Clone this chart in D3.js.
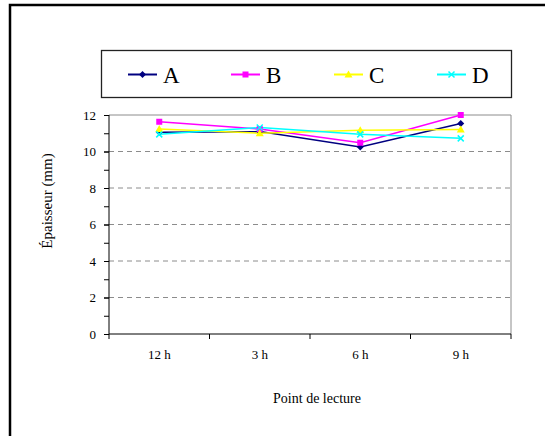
<!DOCTYPE html>
<html><head><meta charset="utf-8">
<script src="https://cdn.jsdelivr.net/npm/d3@7"></script>
<style>body{margin:0;background:#fff}svg{display:block}svg text{font-family:'Liberation Serif','Times New Roman','DejaVu Serif',serif !important;fill:#000}</style>
</head><body>
<script>
const categories = ["12 h", "3 h", "6 h", "9 h"];
const seriesNames = ["A", "B", "C", "D"];
const valuesA = [11.05, 11.09, 10.25, 11.54];
const valuesB = [11.63, 11.23, 10.48, 12.0];
const valuesC = [11.23, 11.0, 11.16, 11.2];
const valuesD = [10.94, 11.31, 10.94, 10.72];
const yTicks = [0, 2, 4, 6, 8, 10, 12];
const yMinorTicks = [0,1,2,3,4,5,6,7,8,9,10,11,12];
const colors = ["#000080", "#FF00FF", "#FFFF00", "#00FFFF"];
const markers = ["diamond", "square", "triangle", "x"];
const series = seriesNames.map((n, i) => ({name: n, values: [valuesA, valuesB, valuesC, valuesD][i], color: colors[i], marker: markers[i]}));

const FONT = "'Liberation Serif','Times New Roman','DejaVu Serif',serif";
const W = 545, H = 436;
const svg = d3.select("body").append("svg").attr("width", W).attr("height", H).attr("font-family", FONT);

// outer frame
svg.append("rect").attr("x", 10).attr("y", 5).attr("width", 600).attr("height", 500)
  .attr("fill", "none").attr("stroke", "#000").attr("stroke-width", 2.5);

const L = 109, R = 511, T = 115, B = 334;
const x = d3.scaleBand().domain(categories).range([L, R]);
const y = d3.scaleLinear().domain([0, 12]).range([B, T]);

// grid
svg.append("g").selectAll("line").data(yTicks.filter(v => v > 0 && v < 12)).join("line")
  .attr("x1", L).attr("x2", R).attr("y1", d => y(d)).attr("y2", d => y(d))
  .attr("stroke", "#8c8c8c").attr("stroke-width", 1).attr("stroke-dasharray", "5,4");

// plot border top/right
svg.append("path").attr("d", `M${L},${T}H${R}V${B}`).attr("fill", "none").attr("stroke", "#8c8c8c").attr("stroke-width", 1);

// y axis
const yAxisMinor = d3.axisLeft(y).tickValues(yMinorTicks).tickSize(5).tickFormat("");
svg.append("g").attr("transform", `translate(${L},0)`).call(yAxisMinor)
  .call(g => g.select(".domain").remove())
  .call(g => g.selectAll("line").attr("stroke", "#000"));
const yAxis = d3.axisLeft(y).tickValues(yTicks).tickSize(5).tickPadding(8);
svg.append("g").attr("transform", `translate(${L},0)`).call(yAxis)
  .attr("font-family", FONT).attr("font-size", 13)
  .call(g => g.select(".domain").attr("stroke", "#000").attr("d", `M0,${B}V${T}`));

// x axis
const xAxis = d3.axisBottom(x).tickSizeInner(0).tickSizeOuter(0).tickPadding(16);
const gx = svg.append("g").attr("transform", `translate(0,${B})`).call(xAxis)
  .attr("font-family", FONT).attr("font-size", 13);
gx.select(".domain").attr("stroke", "#000").attr("d", `M${L},0H${R}`);
gx.selectAll(".xt").data(categories.concat(["__end"])).join("line")
  .attr("x1", (d, i) => L + i * x.step()).attr("x2", (d, i) => L + i * x.step())
  .attr("y1", 0).attr("y2", 5).attr("stroke", "#000");

// axis titles
svg.append("text").attr("transform", `translate(52,201) rotate(-90)`)
  .attr("text-anchor", "middle").attr("font-size", 15).text("Épaisseur (mm)");
svg.append("text").attr("x", 317).attr("y", 403).attr("text-anchor", "middle")
  .attr("font-size", 14).text("Point de lecture");

// marker drawing
function drawMarker(g, type, color) {
  if (type === "diamond") g.append("path").attr("d", "M0,-3.5L3.5,0L0,3.5L-3.5,0Z").attr("fill", color);
  else if (type === "square") g.append("rect").attr("x", -3).attr("y", -3).attr("width", 6).attr("height", 6).attr("fill", color);
  else if (type === "triangle") g.append("path").attr("d", "M0,-4L4,3L-4,3Z").attr("fill", color);
  else if (type === "x") g.append("path").attr("d", "M-3,-3L3,3M-3,3L3,-3").attr("stroke", color).attr("stroke-width", 1.5);
}

const line = d3.line().x((d, i) => x(categories[i]) + x.bandwidth() / 2).y(d => y(d));
series.forEach(s => {
  svg.append("path").datum(s.values).attr("d", line).attr("fill", "none")
    .attr("stroke", s.color).attr("stroke-width", 1.5);
});
series.forEach(s => {
  s.values.forEach((v, i) => {
    const g = svg.append("g").attr("transform", `translate(${x(categories[i]) + x.bandwidth() / 2},${y(v)})`);
    drawMarker(g, s.marker, s.color);
  });
});

// legend
svg.append("rect").attr("x", 101.5).attr("y", 50.5).attr("width", 410).attr("height", 47)
  .attr("fill", "none").attr("stroke", "#222").attr("stroke-width", 1.3);
series.forEach((s, i) => {
  const lx = 128 + i * 103;
  const g = svg.append("g");
  g.append("line").attr("x1", lx).attr("x2", lx + 29).attr("y1", 74.5).attr("y2", 74.5)
    .attr("stroke", s.color).attr("stroke-width", 2);
  const mg = g.append("g").attr("transform", `translate(${lx + 14.5},74.5)`);
  drawMarker(mg, s.marker, s.color);
  g.append("text").attr("x", lx + 35).attr("y", 83).attr("font-size", 23).text(s.name);
});
</script>
</body></html>
